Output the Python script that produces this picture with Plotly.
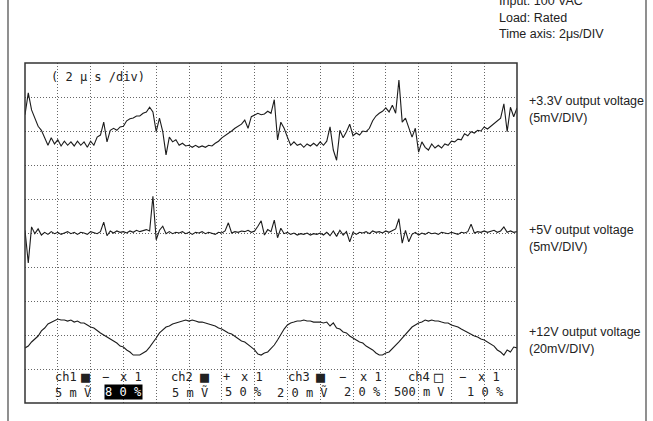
import numpy as np
import plotly.graph_objects as go

# ---- data (time in microseconds, deviation in mV) ----
SAMPLE_US = 0.2
time_us = np.round(np.arange(151) * SAMPLE_US, 2)

v33_mv = [
    2.4, 5.6, 3.1, 1.8, 0.7, 0.1, -0.9, -2.1, -1.0, -1.9,
    -1.3, -2.2, -1.5, -2.1, -1.6, -2.2, -1.5, -2.1, -1.6, -2.4,
    -1.5, -2.1, -0.9, -0.6, 1.3, -1.6, 0.1, 0.4, 0.1, 0.6,
    0.7, 1.5, 1.8, 1.9, 2.2, 2.2, 2.6, 2.8, 3.5, 2.8,
    -0.1, 1.9, -0.1, -3.5, -0.9, -1.6, -1.3, -2.1, -1.8, -2.2,
    -2.1, -2.4, -2.1, -2.4, -2.2, -2.4, -2.1, -2.2, -1.8, -1.5,
    -1.0, -0.7, -0.3, 0.0, 0.4, 0.7, 1.0, 1.6, 0.4, 2.1,
    2.4, 2.6, 2.4, 2.5, 2.9, 2.6, 4.6, -1.3, 1.3, 0.4,
    -0.9, -2.1, -1.6, -2.1, -1.9, -2.4, -1.9, -2.2, -1.8, -2.2,
    -1.6, -2.1, -1.5, 0.6, -2.8, -4.3, 0.1, -1.0, -0.1, 1.0,
    -0.7, -0.3, -0.6, 0.0, -0.1, 0.4, 1.5, 2.2, 2.6, 2.9,
    3.4, 2.8, 3.8, 2.6, 7.5, 1.3, 1.9, 0.4, -0.9, 0.4,
    -3.1, -1.6, -2.4, -2.8, -1.9, -2.5, -2.1, -2.5, -1.9, -2.1,
    -1.5, -1.6, -1.2, -1.3, -0.4, -0.7, -0.1, -0.3, 0.1, 0.0,
    0.6, 0.3, 0.7, 1.2, 1.6, 1.9, 4.0, -0.1, 3.5, 2.1,
    3.4,
]

v5_mv = [
    0.4, -4.4, 0.9, -0.1, 0.6, -0.3, 0.1, -0.2, 0.2, -0.1,
    0.1, -0.2, 0.0, 0.2, -0.1, 0.1, -0.2, 0.1, 0.0, -0.2,
    0.2, 0.0, -0.1, 0.2, 1.6, -0.4, 0.3, 0.0, 0.3, 0.1,
    0.2, 0.0, 0.3, 0.1, 0.4, 0.2, 0.3, 0.5, 0.3, 5.4,
    -1.0, 0.4, 1.0, -0.1, 0.2, -0.1, 0.1, 0.0, 0.2, -0.1,
    0.1, -0.2, 0.1, 0.0, 0.2, -0.1, 0.1, 0.0, -0.2, 0.1,
    0.0, 0.3, 1.5, 0.0, 0.2, 0.1, 0.3, 0.2, 0.4, 0.1,
    0.3, 1.0, 1.8, -0.3, 0.5, 0.2, 1.9, -0.7, 0.7, -0.1,
    0.1, -0.2, 0.0, -0.3, -0.1, -0.2, 0.0, -0.3, -0.1, -0.2,
    0.0, -0.3, 0.1, -0.4, 0.3, -0.5, 0.4, -0.3, 0.2, -1.3,
    0.1, -0.2, 0.1, 0.0, 0.2, -0.1, 0.3, 0.1, 0.2, 0.0,
    0.3, 0.1, 0.4, 0.6, 2.1, -1.5, 0.4, -1.3, -0.2, 0.1,
    -0.3, 0.0, -0.2, 0.1, -0.1, 0.0, -0.2, 0.1, 0.0, -0.1,
    0.1, 0.0, -0.2, 0.1, 0.0, 0.2, 1.3, 0.0, 0.2, 0.1,
    0.3, 0.1, 0.2, 0.4, 0.1, 0.3, 0.9, 0.1, 0.3, 0.1,
    0.2,
]

v12_mv = [
    -7.6, -6.5, -4.1, -2.4, -0.6, 2.4, 4.1, 6.5, 7.6, 8.2,
    9.4, 8.8, 8.8, 8.2, 8.8, 7.6, 8.2, 7.1, 7.1, 5.9,
    4.7, 4.1, 2.4, 1.2, 0.0, -1.2, -2.4, -3.5, -4.7, -6.5,
    -7.1, -8.8, -10.0, -11.8, -11.8, -11.8, -10.6, -9.4, -7.1, -4.7,
    -1.8, 1.2, 2.9, 4.7, 5.3, 6.5, 7.1, 7.6, 8.2, 8.8,
    8.2, 8.8, 8.2, 7.6, 7.6, 7.1, 6.5, 5.9, 5.3, 4.1,
    3.5, 2.4, 1.2, 0.6, -0.6, -1.8, -3.5, -4.1, -5.9, -7.1,
    -8.8, -11.2, -11.8, -10.6, -10.0, -8.2, -5.9, -2.9, 0.6, 3.5,
    5.9, 7.1, 7.6, 8.2, 8.2, 8.8, 8.2, 8.2, 7.6, 7.6,
    7.6, 7.1, 7.6, 5.3, 7.1, 4.1, 3.5, 1.8, 1.2, -0.6,
    -1.8, -2.9, -4.1, -4.7, -6.5, -7.6, -8.8, -10.6, -11.8, -11.8,
    -10.6, -10.0, -8.2, -5.9, -4.1, -1.8, 0.6, 2.9, 4.7, 5.9,
    7.1, 7.6, 8.8, 8.2, 8.8, 8.2, 8.2, 7.6, 7.1, 7.1,
    5.9, 5.3, 4.7, 3.5, 2.4, 1.8, 0.6, -0.6, -1.2, -2.4,
    -2.9, -4.1, -5.3, -6.5, -8.8, -10.0, -11.8, -8.8, -10.0, -7.1,
    -7.6,
]

# channel settings: volts/div (mV) and screen position (fraction of height)
ch_scale_mv = [5, 5, 20]
ch_position = [0.8, 0.5, 0.2]
ch_labels = ["+3.3V output voltage", "+5V output voltage", "+12V output voltage"]
ch_units = ["(5mV/DIV)", "(5mV/DIV)", "(20mV/DIV)"]

DIVS_Y = 10
W, H = 653, 421
SX0, SX1, SY0, SY1 = 25, 517, 63, 403  # scope screen in pixels


def px(x):
    return x / W


def py(y):
    return 1 - y / H


fig = go.Figure()
for vals, sc, pos in zip([v33_mv, v5_mv, v12_mv], ch_scale_mv, ch_position):
    ydiv = pos * DIVS_Y + np.array(vals) / sc
    fig.add_trace(go.Scatter(x=time_us, y=ydiv, mode="lines",
                             line=dict(color="#1c1c1c", width=1.1),
                             hoverinfo="skip", showlegend=False))

fig.update_layout(
    width=W, height=H, margin=dict(l=0, r=0, t=0, b=0),
    paper_bgcolor="white", plot_bgcolor="white",
    xaxis=dict(domain=[px(SX0), px(SX1)], range=[0, 30], dtick=2,
               showgrid=True, gridcolor="#666", gridwidth=1, griddash="1px,2px",
               showticklabels=False, zeroline=False, ticks="", fixedrange=True),
    yaxis=dict(domain=[py(SY1), py(SY0)], range=[0, DIVS_Y], dtick=1,
               showgrid=True, gridcolor="#666", gridwidth=1, griddash="1px,2px",
               showticklabels=False, zeroline=False, ticks="", fixedrange=True),
)

shapes = [
    # outer frame
    dict(type="rect", xref="paper", yref="paper", x0=px(8), x1=px(646),
         y0=-0.05, y1=1.05, line=dict(color="#555", width=1.3)),
    # scope screen border
    dict(type="rect", xref="x domain", yref="y domain", x0=0, x1=1, y0=0, y1=1,
         line=dict(color="#333", width=1.5)),
]
fig.update_layout(shapes=shapes)

ann = []


def txt(s, x, y, size=12.5, family="Liberation Sans, Arial", color="#222",
        xanchor="left", **kw):
    ann.append(dict(text=s, x=px(x), y=py(y), xref="paper", yref="paper",
                    xanchor=xanchor, yanchor="middle", showarrow=False,
                    font=dict(size=size, family=family, color=color), **kw))


# top-right notes
txt("Input: 100 VAC", 497, 1)
txt("Load: Rated", 497, 18)
txt("Time axis: 2\u03bcs/DIV", 497, 34)

# channel labels at right
label_y = [(101, 118), (230, 247), (332, 349)]
for (l1, l2), (ya, yb) in zip(zip(ch_labels, ch_units), label_y):
    txt(l1, 527, ya)
    txt(l2, 527, yb)

MONO = "DejaVu Sans Mono"
txt("( 2 \u03bc s /div)", 49, 77, size=12, family=MONO)

row1 = [("ch1", 53), ("\u25a0", 79), ("\u2212", 100), ("x 1", 118),
        ("ch2", 169), ("\u25a0", 198), ("+", 221), ("x 1", 239),
        ("ch3", 286), ("\u25a0", 314), ("\u2212", 337), ("x 1", 358),
        ("ch4", 406), ("\u25a1", 432), ("\u2212", 457), ("x 1", 476)]
for s, x in row1:
    sz = 15 if s in ("\u25a0", "\u25a1") else 12
    txt(s, x, 377, size=sz, family=MONO)

row2 = [("5 m \u1e7c", 53), ("5 m \u1e7c", 170), ("5 0 %", 223),
        ("2 0 m \u1e7c", 275), ("2 0 %", 342), ("500 m V", 392), ("1 0 %", 465)]
for s, x in row2:
    txt(s, x, 392, size=12, family=MONO)
txt("8 0 %", 104, 392, size=12, family=MONO, color="white",
    bgcolor="black", borderpad=0)

fig.update_layout(annotations=ann)
fig.write_html("out.html",
               config={"displayModeBar": False},
               post_script="document.body.style.margin='0';"
                           "document.body.style.overflow='hidden';")
